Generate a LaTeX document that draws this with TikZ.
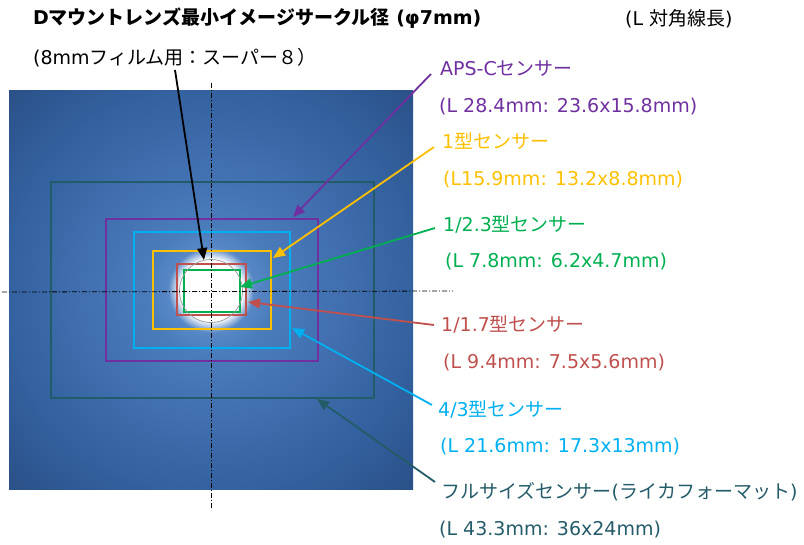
\documentclass[tikz,border=0pt]{standalone}
\usepackage{fontspec}
\setmainfont{DejaVu Sans}
\newfontfamily\jp{Noto Sans CJK JP}
\usetikzlibrary{arrows.meta}
\definecolor{cpur}{HTML}{7030A0}
\definecolor{cyel}{HTML}{FFC000}
\definecolor{cgrn}{HTML}{00B050}
\definecolor{cred}{HTML}{C0504D}
\definecolor{ccya}{HTML}{00B0F0}
\definecolor{ctea}{HTML}{245B69}
\definecolor{bglow}{HTML}{5888C6}
\definecolor{bmid}{HTML}{4A7CBC}
\definecolor{bmid2}{HTML}{416FAF}
\definecolor{bedge}{HTML}{3462A0}
\definecolor{bcorner}{HTML}{2A5088}
\pgfdeclareradialshading{lensglow}{\pgfpoint{0bp}{0bp}}{color(0bp)=(white); color(3.9bp)=(white); color(5.3bp)=(bglow); color(8bp)=(bmid); color(16bp)=(bmid2); color(25bp)=(bedge); color(35.5bp)=(bcorner); color(50bp)=(bcorner)}
\tikzset{
  lbl/.style={anchor=base west, inner sep=0pt, font=\fontsize{19}{22}\selectfont},
  sensor/.style={line width=2pt},
  arr/.style={line width=1.8pt, -{Triangle[length=12pt,width=10pt]}},
  axis/.style={line width=0.8pt, dash pattern=on 5pt off 2pt on 1pt off 2pt}
}
\begin{document}
\begin{tikzpicture}[x=1pt,y=-1pt]
\useasboundingbox (0,0) rectangle (804,545);
% background square with glow
\shade[shading=lensglow] (9,91) rectangle (413,489);
% sensor frames
\draw[sensor, ctea] (51,182) rectangle (374,398);
\draw[sensor, cpur] (106,219) rectangle (318,361);
\draw[sensor, ccya] (134,232) rectangle (290,348);
\draw[sensor, cyel] (153,251) rectangle (271,329);
\draw[sensor, cred] (177,264) rectangle (246,315);
\fill[white, rounded corners=5pt] (185.5,271.5) rectangle (238.5,310.5);
\draw[sensor, cgrn] (184,270) rectangle (240,312);
\draw[gray!80, line width=0.7pt] (211,291) circle (31.5);
% axes
\coordinate (vt) at (211,83);
\coordinate (vb) at (211,510);
\coordinate (hl) at (2,292);
\coordinate (hr) at (453,291);
\draw[axis] (vt) -- (vb);
\draw[axis] (hl) -- (hr);
% texts
\node[lbl, font=\fontsize{19}{22}\selectfont\bfseries] (title) at (33,25) {D{\jp マウントレンズ最小イメージサークル径} (φ7mm)};
\node[lbl] (sub) at (33,65) {(8mm{\jp フィルム用：スーパー８）}};
\node[lbl] (diag) at (625,26) {(L {\jp 対角線長})};
\node[lbl, text=cpur] (aps) at (440,76) {APS-C{\jp センサー}};
\node[lbl, text=cpur] (apsd) at (439,113) {(L 28.4mm: 23.6x15.8mm)};
\node[lbl, text=cyel] (one) at (442,149) {1{\jp 型センサー}};
\node[lbl, text=cyel] (oned) at (443,186) {(L15.9mm: 13.2x8.8mm)};
\node[lbl, text=cgrn] (g23) at (443,232) {1/2.3{\jp 型センサー}};
\node[lbl, text=cgrn] (g23d) at (445,268) {(L 7.8mm: 6.2x4.7mm)};
\node[lbl, text=cred] (r17) at (441,332) {1/1.7{\jp 型センサー}};
\node[lbl, text=cred] (r17d) at (443,369) {(L 9.4mm: 7.5x5.6mm)};
\node[lbl, text=ccya] (ft) at (438,417) {4/3{\jp 型センサー}};
\node[lbl, text=ccya] (ftd) at (440,453) {(L 21.6mm: 17.3x13mm)};
\node[lbl, text=ctea] (ff) at (441,498) {{\jp フルサイズセンサー}({\jp ライカフォーマット})};
\node[lbl, text=ctea] (ffd) at (439,535) {(L 43.3mm: 36x24mm)};
% arrows
\coordinate (s8from) at (175,70);   \coordinate (s8tip) at (204,260);
\coordinate (apsfrom) at (431,74);  \coordinate (apstip) at (293,217);
\coordinate (onefrom) at (434,147); \coordinate (onetip) at (273,258);
\coordinate (g23from) at (435,228); \coordinate (g23tip) at (240,287);
\coordinate (r17from) at (434,325); \coordinate (r17tip) at (248,302);
\coordinate (ftfrom) at (432,405);  \coordinate (fttip) at (292,328);
\coordinate (fffrom) at (435,482);  \coordinate (fftip) at (317,399);
\draw[arr, black] (s8from) -- (s8tip);
\draw[arr, cpur] (apsfrom) -- (apstip);
\draw[arr, cyel] (onefrom) -- (onetip);
\draw[arr, cgrn] (g23from) -- (g23tip);
\draw[arr, cred] (r17from) -- (r17tip);
\draw[arr, ccya] (ftfrom) -- (fttip);
\draw[arr, ctea] (fffrom) -- (fftip);
\end{tikzpicture}
\end{document}
